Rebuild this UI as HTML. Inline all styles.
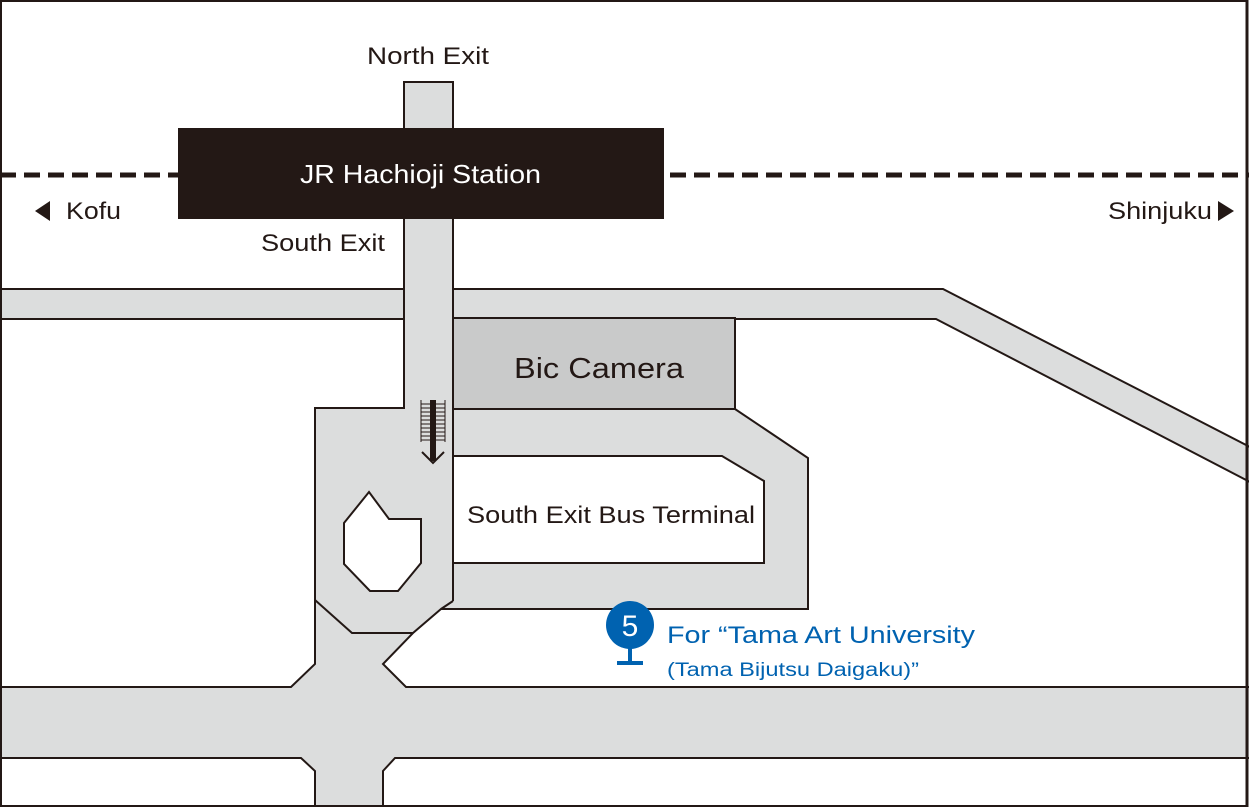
<!DOCTYPE html>
<html><head><meta charset="utf-8"><style>
html,body{margin:0;padding:0;background:#fff}
svg{display:block}
text{font-family:"Liberation Sans",sans-serif}
</style></head><body>
<svg width="1249" height="807" viewBox="0 0 1249 807" xmlns="http://www.w3.org/2000/svg">
<rect x="0" y="0" width="1249" height="807" fill="#fff"/>
<polygon points="-2,289 943,289 1252,448 1252,483 936,319 -2,319" fill="#dcdddd" stroke="#231815" stroke-width="2"/>
<polygon points="315,408 404,408 404,82 453,82 453,409 735,409 808,458 808,609 441,609 413,633 383,664 406,687 1252,687 1252,758 395,758 383,771 383,810 315,810 315,771 301,758 -2,758 -2,687 291,687 315,664" fill="#dcdddd" stroke="#231815" stroke-width="2"/>
<rect x="405" y="283" width="47" height="42" fill="#dcdddd"/>
<line x1="404" y1="82" x2="404" y2="408" stroke="#231815" stroke-width="2"/>
<line x1="453" y1="82" x2="453" y2="601" stroke="#231815" stroke-width="2"/>
<polyline points="315,600 352,633 413,633" fill="none" stroke="#231815" stroke-width="2"/>
<line x1="453" y1="601" x2="441" y2="609" stroke="#231815" stroke-width="2"/>
<rect x="453" y="318" width="282" height="91" fill="#c9caca" stroke="#231815" stroke-width="2"/>
<text x="514" y="378" font-size="29" textLength="170" lengthAdjust="spacingAndGlyphs" fill="#231815">Bic Camera</text>
<polygon points="453,456 722,456 764,481 764,563 453,563" fill="#fff" stroke="#231815" stroke-width="2"/>
<text x="467" y="523" font-size="24" textLength="288" lengthAdjust="spacingAndGlyphs" fill="#231815">South Exit Bus Terminal</text>
<polygon points="369,492 389,519 421,519 421,563 398,591 370,591 344,564 344,523" fill="#fff" stroke="#231815" stroke-width="2"/>
<g stroke="#231815" stroke-width="1">
<line x1="421" y1="400" x2="421" y2="442"/><line x1="445" y1="400" x2="445" y2="442"/>
<line x1="421" y1="404" x2="445" y2="404"/><line x1="421" y1="408" x2="445" y2="408"/>
<line x1="421" y1="412" x2="445" y2="412"/><line x1="421" y1="416" x2="445" y2="416"/>
<line x1="421" y1="420" x2="445" y2="420"/><line x1="421" y1="424" x2="445" y2="424"/>
<line x1="421" y1="428" x2="445" y2="428"/><line x1="421" y1="432" x2="445" y2="432"/>
<line x1="421" y1="436" x2="445" y2="436"/><line x1="421" y1="440" x2="445" y2="440"/>
</g>
<line x1="433" y1="400" x2="433" y2="461" stroke="#231815" stroke-width="6"/>
<polyline points="422,452 433,463 444,452" fill="none" stroke="#231815" stroke-width="2"/>
<line x1="0" y1="175" x2="178" y2="175" stroke="#231815" stroke-width="5" stroke-dasharray="16,8"/>
<line x1="670" y1="175" x2="1249" y2="175" stroke="#231815" stroke-width="5" stroke-dasharray="16,8"/>
<rect x="178" y="128" width="486" height="91" fill="#231815"/>
<text x="300" y="183" font-size="26" textLength="241" lengthAdjust="spacingAndGlyphs" fill="#fff">JR Hachioji Station</text>
<text x="367" y="64" font-size="24" textLength="122" lengthAdjust="spacingAndGlyphs" fill="#231815">North Exit</text>
<text x="261" y="251" font-size="24" textLength="124" lengthAdjust="spacingAndGlyphs" fill="#231815">South Exit</text>
<polygon points="35,211 50,201 50,221" fill="#231815"/>
<text x="66" y="219" font-size="24" textLength="55" lengthAdjust="spacingAndGlyphs" fill="#231815">Kofu</text>
<text x="1108" y="219" font-size="24" textLength="104" lengthAdjust="spacingAndGlyphs" fill="#231815">Shinjuku</text>
<polygon points="1234,211 1218,201 1218,221" fill="#231815"/>
<circle cx="630" cy="625" r="24" fill="#0062b0"/>
<text x="630" y="636" font-size="30" text-anchor="middle" fill="#fff">5</text>
<rect x="628" y="645" width="4" height="19" fill="#0062b0"/>
<rect x="617" y="661" width="26" height="4" fill="#0062b0"/>
<text x="667" y="643" font-size="24" textLength="308" lengthAdjust="spacingAndGlyphs" fill="#0062b0">For “Tama Art University</text>
<text x="667" y="676" font-size="19" textLength="252" lengthAdjust="spacingAndGlyphs" fill="#0062b0">(Tama Bijutsu Daigaku)”</text>
<rect x="1" y="1" width="1246" height="805" fill="none" stroke="#231815" stroke-width="2"/>
<line x1="1247" y1="0" x2="1247" y2="807" stroke="#231815" stroke-width="3"/>
</svg>
</body></html>
